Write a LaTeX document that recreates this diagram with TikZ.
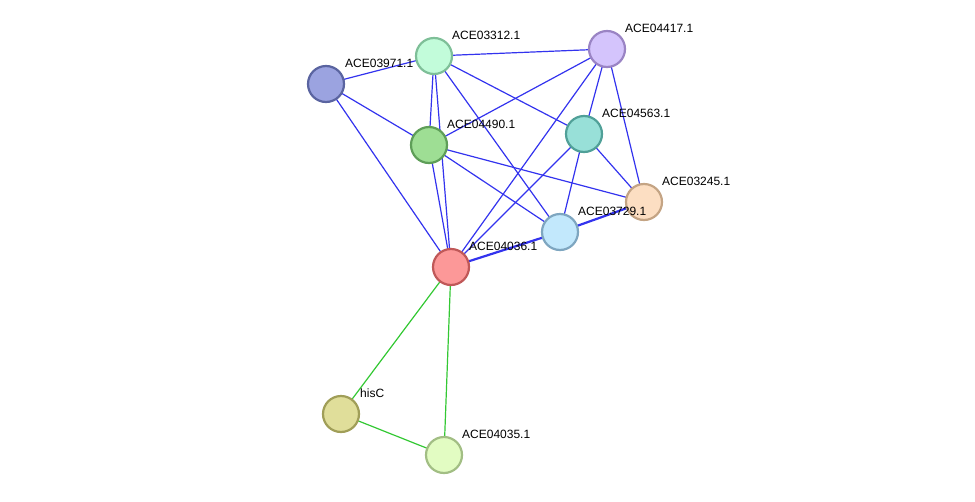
\documentclass[tikz,border=0pt]{standalone}
\usepackage{fontspec}
\setmainfont{Liberation Sans}
\begin{document}
\begin{tikzpicture}[x=1pt,y=-1pt,
  prot/.style={circle,draw,line width=2.2pt,minimum size=36pt,inner sep=0pt},
  lab/.style={font=\fontsize{12}{12}\selectfont,anchor=base west,inner sep=0pt},
  bl/.style={draw={rgb,255:red,51;green,51;blue,238},line width=1.2pt},
  blt/.style={draw={rgb,255:red,51;green,51;blue,238},line width=2.2pt},
  gr/.style={draw={rgb,255:red,51;green,200;blue,51},line width=1.2pt}]
\useasboundingbox (0,0) rectangle (975,501);
\definecolor{f1}{HTML}{9BA3E0}\definecolor{b1}{HTML}{5A64A0}
\definecolor{f2}{HTML}{C2FCDA}\definecolor{b2}{HTML}{7EBF98}
\definecolor{f3}{HTML}{D4C4FC}\definecolor{b3}{HTML}{9A84C4}
\definecolor{f4}{HTML}{9EDE94}\definecolor{b4}{HTML}{5E9E58}
\definecolor{f5}{HTML}{98E0D8}\definecolor{b5}{HTML}{50A098}
\definecolor{f6}{HTML}{FCDEC2}\definecolor{b6}{HTML}{C4A484}
\definecolor{f7}{HTML}{C2E8FC}\definecolor{b7}{HTML}{7EA6C0}
\definecolor{f8}{HTML}{FC9898}\definecolor{b8}{HTML}{C05858}
\definecolor{f9}{HTML}{E0DE9A}\definecolor{b9}{HTML}{A09E58}
\definecolor{f10}{HTML}{E2FCC2}\definecolor{b10}{HTML}{A2BE84}
% coordinates for nodes
\coordinate (p1) at (326,84);
\coordinate (p2) at (434,56);
\coordinate (p3) at (607,49);
\coordinate (p4) at (429,145);
\coordinate (p5) at (584,134);
\coordinate (p6) at (644,202);
\coordinate (p7) at (560,232);
\coordinate (p8) at (451,267);
\coordinate (p9) at (341,414);
\coordinate (p10) at (444,455);
% edges
\draw[bl] (p1) -- (p2);
\draw[bl] (p1) -- (p4);
\draw[bl] (p1) -- (p8);
\draw[bl] (p2) -- (p3);
\draw[bl] (p2) -- (p4);
\draw[bl] (p2) -- (p8);
\draw[bl] (p2) -- (p5);
\draw[bl] (p2) -- (p7);
\draw[bl] (p3) -- (p4);
\draw[bl] (p3) -- (p5);
\draw[bl] (p3) -- (p6);
\draw[bl] (p3) -- (p8);
\draw[bl] (p4) -- (p8);
\draw[bl] (p4) -- (p7);
\draw[bl] (p4) -- (p6);
\draw[bl] (p5) -- (p6);
\draw[bl] (p5) -- (p7);
\draw[bl] (p5) -- (p8);
\draw[blt] (p7) -- (p6);
\draw[blt] (p7) -- (p8);
\draw[gr] (p8) -- (p9);
\draw[gr] (p8) -- (p10);
\draw[gr] (p9) -- (p10);
% nodes
\node[prot,fill=f1,draw=b1] (n1) at (p1) {};
\node[prot,fill=f2,draw=b2] (n2) at (p2) {};
\node[prot,fill=f3,draw=b3] (n3) at (p3) {};
\node[prot,fill=f4,draw=b4] (n4) at (p4) {};
\node[prot,fill=f5,draw=b5] (n5) at (p5) {};
\node[prot,fill=f6,draw=b6] (n6) at (p6) {};
\node[prot,fill=f7,draw=b7] (n7) at (p7) {};
\node[prot,fill=f8,draw=b8] (n8) at (p8) {};
\node[prot,fill=f9,draw=b9] (n9) at (p9) {};
\node[prot,fill=f10,draw=b10] (n10) at (p10) {};
% labels
\node[lab] (l1) at ([shift={(19,-17)}]p1) {ACE03971.1};
\node[lab] (l2) at ([shift={(18,-17)}]p2) {ACE03312.1};
\node[lab] (l3) at ([shift={(18,-17)}]p3) {ACE04417.1};
\node[lab] (l4) at ([shift={(18,-17)}]p4) {ACE04490.1};
\node[lab] (l5) at ([shift={(18,-17)}]p5) {ACE04563.1};
\node[lab] (l6) at ([shift={(18,-17)}]p6) {ACE03245.1};
\node[lab] (l7) at ([shift={(18,-17)}]p7) {ACE03729.1};
\node[lab] (l8) at ([shift={(18,-17)}]p8) {ACE04036.1};
\node[lab] (l9) at ([shift={(19,-17)}]p9) {hisC};
\node[lab] (l10) at ([shift={(18,-17)}]p10) {ACE04035.1};
\end{tikzpicture}
\end{document}
